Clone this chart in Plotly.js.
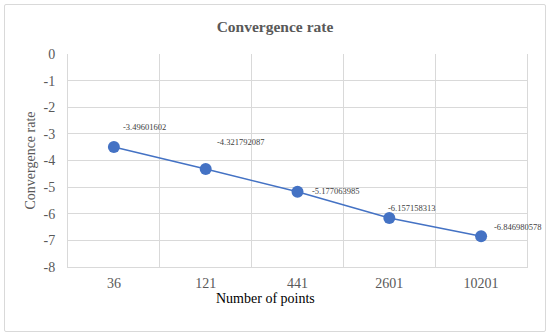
<!DOCTYPE html>
<html><head><meta charset="utf-8">
<script src="https://cdn.plot.ly/plotly-3.0.1.min.js"></script>
<style>
html,body{margin:0;padding:0;background:#fff;}
#wrap{position:relative;width:550px;height:336px;}
#chart{width:550px;height:336px;}
#frame{position:absolute;left:4px;top:4px;width:540px;height:326px;border:1px solid #d9d9d9;border-radius:2px;pointer-events:none;}
</style></head>
<body>
<div id="wrap"><div id="chart"></div><div id="frame"></div></div>
<script>
const categories = ['36','121','441','2601','10201'];
const rates = [-3.49601602, -4.321792087, -5.177063985, -6.157158313, -6.846980578];
const labelText = ['-3.49601602','-4.321792087','-5.177063985','-6.157158313','-6.846980578'];
const yTicks = [0,-1,-2,-3,-4,-5,-6,-7,-8];

const idx = categories.map((c,i)=>i);
const shifts = [[31,20],[35,27],[38,1],[22,10],[36,9]];
const serif = 'Liberation Serif, Times New Roman, serif';

const trace = {
  x: idx, y: rates, type:'scatter', mode:'lines+markers',
  line:{color:'#4472C4', width:1.5},
  marker:{color:'#4472C4', size:12},
  hoverinfo:'none'
};

const annotations = idx.map((i,k)=>({
  x:i, y:rates[k], xref:'x', yref:'y', text:labelText[k], showarrow:false,
  xshift:shifts[k][0], yshift:shifts[k][1],
  font:{family:serif, size:8.5, color:'#404040'}
}));
annotations.push({
  x:0.431, y:-0.148, xref:'paper', yref:'paper', xanchor:'center', yanchor:'middle',
  text:'Number of points', showarrow:false, font:{family:serif, size:14, color:'#000'}
});

const layout = {
  width:550, height:336,
  margin:{l:68, r:23, t:54, b:69},
  paper_bgcolor:'#fff', plot_bgcolor:'#fff',
  showlegend:false,
  title:{text:'<b>Convergence rate</b>', x:0.5, xanchor:'center', y:0.92, yanchor:'middle',
         font:{family:serif, size:15.5, color:'#595959'}},
  xaxis:{
    range:[-0.5,4.5], tickvals:idx, ticktext:categories, showgrid:false, zeroline:false,
    showline:true, linecolor:'#d9d9d9', linewidth:1, ticks:'', ticklabelstandoff:3,
    tickfont:{family:serif, size:14, color:'#595959'},
    minor:{tickvals:[-0.5,0.5,1.5,2.5,3.5,4.5], showgrid:true, gridcolor:'#d9d9d9', gridwidth:1, ticks:''}
  },
  yaxis:{
    range:[-8,0], tickvals:yTicks, ticktext:yTicks.map(String), showgrid:true, gridcolor:'#d9d9d9', gridwidth:1,
    zeroline:false, showline:true, mirror:true, linecolor:'#d9d9d9', linewidth:1, ticks:'', ticklabelstandoff:9,
    tickfont:{family:serif, size:14, color:'#595959'},
    title:{text:'Convergence rate', standoff:4, font:{family:serif, size:14, color:'#595959'}}
  },
  annotations: annotations
};

Plotly.newPlot('chart',[trace],layout,{staticPlot:true, displayModeBar:false});
</script>
</body></html>
